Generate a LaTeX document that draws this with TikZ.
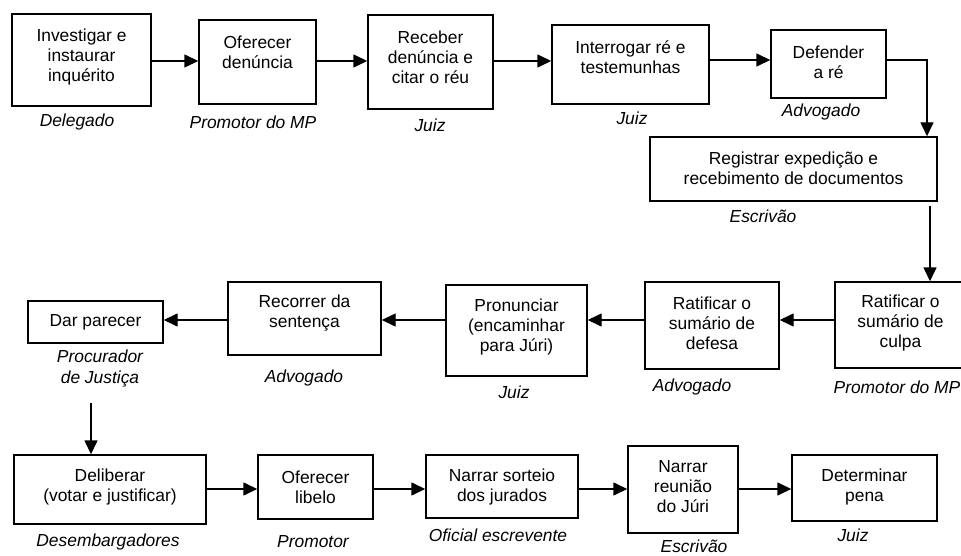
\documentclass[tikz,border=0pt]{standalone}
\usepackage{fontspec}
\setmainfont{Liberation Sans}
\usetikzlibrary{arrows.meta}
\tikzset{
  stepbox/.style={draw=black, line width=1.4pt, inner sep=0pt, fill=white},
  txt/.style={align=center, inner sep=0pt, font=\fontsize{17.4}{20}\selectfont},
  role/.style={align=center, inner sep=0pt, font=\fontsize{17.4}{21}\selectfont\itshape},
  arr/.style={line width=1.4pt, -{Triangle[length=14pt,width=13pt]}},
}
\begin{document}
\begin{tikzpicture}[x=1pt,y=-1pt]
\useasboundingbox (0,0) rectangle (961,556);
\fill[white] (0,0) rectangle (961,556);
% row 1
\node[stepbox, minimum width=139pt, minimum height=92pt] (b1) at (81.5,60) {};
\node[txt] (t1) at (81.5,57) {Investigar e\\instaurar\\inquérito};
\node[stepbox, minimum width=117pt, minimum height=84pt] (b2) at (257.5,62) {};
\node[txt] (t2) at (257.5,52) {Oferecer\\denúncia};
\node[stepbox, minimum width=125pt, minimum height=94pt] (b3) at (430.5,62) {};
\node[txt] (t3) at (430.5,57) {Receber\\denúncia e\\citar o réu};
\node[stepbox, minimum width=157pt, minimum height=79pt] (b4) at (630.5,64.5) {};
\node[txt] (t4) at (630.5,57) {Interrogar ré e\\testemunhas};
\node[stepbox, minimum width=115pt, minimum height=68pt] (b5) at (828.5,64) {};
\node[txt] (t5) at (828.5,62) {Defender\\a ré};
\node[stepbox, minimum width=287pt, minimum height=64pt] (b6) at (793.5,169) {};
\node[txt] (t6) at (793.5,168) {Registrar expedição e\\recebimento de documentos};
% row 2
\node[stepbox, minimum width=131pt, minimum height=86pt] (b7) at (900.5,325) {};
\node[txt] (t7) at (900.5,323) {Ratificar o\\sumário de\\culpa};
\node[stepbox, minimum width=134pt, minimum height=87pt] (b8) at (712,325.5) {};
\node[txt] (t8) at (712,323) {Ratificar o\\sumário de\\defesa};
\node[stepbox, minimum width=141pt, minimum height=91pt] (b9) at (516.5,330.5) {};
\node[txt] (t9) at (516.5,327) {Pronunciar\\(encaminhar\\para Júri)};
\node[stepbox, minimum width=153pt, minimum height=73pt] (b10) at (304.5,318.5) {};
\node[txt] (t10) at (304.5,313) {Recorrer da\\sentença};
\node[stepbox, minimum width=135pt, minimum height=42pt] (b11) at (95.5,322) {};
\node[txt] (t11) at (95.5,322) {Dar parecer};
% row 3
\node[stepbox, minimum width=192pt, minimum height=69pt] (b12) at (110,489.5) {};
\node[txt] (t12) at (110,487) {Deliberar\\(votar e justificar)};
\node[stepbox, minimum width=115pt, minimum height=64pt] (b13) at (315.5,487) {};
\node[txt] (t13) at (315.5,487) {Oferecer\\libelo};
\node[stepbox, minimum width=152pt, minimum height=63pt] (b14) at (502,486.5) {};
\node[txt] (t14) at (502,487) {Narrar sorteio\\dos jurados};
\node[stepbox, minimum width=110pt, minimum height=87pt] (b15) at (683,489.5) {};
\node[txt] (t15) at (683,487) {Narrar\\reunião\\do Júri};
\node[stepbox, minimum width=145pt, minimum height=66pt] (b16) at (864.5,488) {};
\node[txt] (t16) at (864.5,487) {Determinar\\pena};
% roles
\node[role] (r1) at (77,122) {Delegado};
\node[role] (r2) at (253,122) {Promotor do MP};
\node[role] (r3) at (430,125) {Juiz};
\node[role] (r4) at (632,118) {Juiz};
\node[role] (r5) at (821,112) {Advogado};
\node[role] (r6) at (763,216) {Escrivão};
\node[role] (r7) at (897,387) {Promotor do MP};
\node[role] (r8) at (692,387) {Advogado};
\node[role] (r9) at (514,392) {Juiz};
\node[role] (r10) at (304,378) {Advogado};
\node[role] (r11) at (100,368.5) {Procurador\\de Justiça};
\node[role] (r12) at (108,542) {Desembargadores};
\node[role] (r13) at (313,542) {Promotor};
\node[role] (r14) at (498,535) {Oficial escrevente};
\node[role] (r15) at (694,546.5) {Escrivão};
\node[role] (r16) at (853,535) {Juiz};
% connectors row 1
\draw[arr] (b1.east |- 0,61) -- (b2.west |- 0,61);
\draw[arr] (b2.east |- 0,61) -- (b3.west |- 0,61);
\draw[arr] (b3.east |- 0,61) -- (b4.west |- 0,61);
\draw[arr] (b4.east |- 0,60) -- (b5.west |- 0,60);
\draw[arr] (b5.east |- 0,60) -| (b6.north -| 927,0);
\draw[arr, shorten <=4pt] (b6.south -| 930,0) -- (b7.north -| 930,0);
% row 2
\draw[arr] (b7.west |- 0,320) -- (b8.east |- 0,320);
\draw[arr] (b8.west |- 0,320) -- (b9.east |- 0,320);
\draw[arr] (b9.west |- 0,320) -- (b10.east |- 0,320);
\draw[arr] (b10.west |- 0,320) -- (b11.east |- 0,320);
\coordinate (p) at (91,403);
\draw[arr] (p) -- (b12.north -| p);
% row 3
\draw[arr] (b12.east |- 0,489) -- (b13.west |- 0,489);
\draw[arr] (b13.east |- 0,489) -- (b14.west |- 0,489);
\draw[arr] (b14.east |- 0,489) -- (b15.west |- 0,489);
\draw[arr] (b15.east |- 0,489) -- (b16.west |- 0,489);
\end{tikzpicture}
\end{document}
